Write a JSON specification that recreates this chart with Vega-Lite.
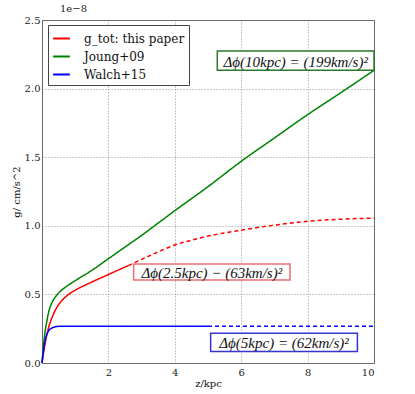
{
  "$schema": "https://vega.github.io/schema/vega-lite/v6.json",
  "width": 332,
  "height": 343,
  "autosize": {"type": "none"},
  "padding": {"left": 42, "top": 20, "right": 41, "bottom": 31},
  "background": "white",
  "title": {"text": "1e−8", "anchor": "start", "frame": "group", "font": "DejaVu Serif, Liberation Serif, serif", "fontSize": 10, "fontWeight": "normal", "color": "#222", "offset": 1, "dx": 18},
  "config": {
    "view": {"stroke": "#666", "strokeWidth": 1},
    "axis": {"labelFont": "DejaVu Serif, Liberation Serif, serif", "titleFont": "DejaVu Serif, Liberation Serif, serif", "labelFontSize": 10, "titleFontSize": 10, "labelColor": "#222", "titleColor": "#111", "titleFontWeight": "normal", "domain": false, "ticks": false, "gridColor": "#777", "gridDash": [1, 2], "gridWidth": 0.8}
  },
  "datasets": {
    "curves": [
      {"s": "g_tot: this paper", "seg": "solid", "z": 0, "g": 0},
      {"s": "g_tot: this paper", "seg": "solid", "z": 0.05, "g": 0.08},
      {"s": "g_tot: this paper", "seg": "solid", "z": 0.1, "g": 0.15},
      {"s": "g_tot: this paper", "seg": "solid", "z": 0.15, "g": 0.21},
      {"s": "g_tot: this paper", "seg": "solid", "z": 0.2, "g": 0.26},
      {"s": "g_tot: this paper", "seg": "solid", "z": 0.3, "g": 0.33},
      {"s": "g_tot: this paper", "seg": "solid", "z": 0.4, "g": 0.385},
      {"s": "g_tot: this paper", "seg": "solid", "z": 0.5, "g": 0.425},
      {"s": "g_tot: this paper", "seg": "solid", "z": 0.75, "g": 0.49},
      {"s": "g_tot: this paper", "seg": "solid", "z": 1, "g": 0.53},
      {"s": "g_tot: this paper", "seg": "solid", "z": 1.5, "g": 0.59},
      {"s": "g_tot: this paper", "seg": "solid", "z": 2, "g": 0.645},
      {"s": "g_tot: this paper", "seg": "solid", "z": 2.6, "g": 0.71},
      {"s": "g_tot: this paper", "seg": "dashed", "z": 2.6, "g": 0.71},
      {"s": "g_tot: this paper", "seg": "dashed", "z": 3, "g": 0.755},
      {"s": "g_tot: this paper", "seg": "dashed", "z": 3.5, "g": 0.81},
      {"s": "g_tot: this paper", "seg": "dashed", "z": 4, "g": 0.86},
      {"s": "g_tot: this paper", "seg": "dashed", "z": 4.5, "g": 0.895},
      {"s": "g_tot: this paper", "seg": "dashed", "z": 5, "g": 0.925},
      {"s": "g_tot: this paper", "seg": "dashed", "z": 6, "g": 0.968},
      {"s": "g_tot: this paper", "seg": "dashed", "z": 7, "g": 1.005},
      {"s": "g_tot: this paper", "seg": "dashed", "z": 8, "g": 1.033},
      {"s": "g_tot: this paper", "seg": "dashed", "z": 9, "g": 1.048},
      {"s": "g_tot: this paper", "seg": "dashed", "z": 10, "g": 1.056},
      {"s": "Joung+09", "seg": "solid", "z": 0, "g": 0},
      {"s": "Joung+09", "seg": "solid", "z": 0.05, "g": 0.14},
      {"s": "Joung+09", "seg": "solid", "z": 0.1, "g": 0.24},
      {"s": "Joung+09", "seg": "solid", "z": 0.15, "g": 0.31},
      {"s": "Joung+09", "seg": "solid", "z": 0.2, "g": 0.37},
      {"s": "Joung+09", "seg": "solid", "z": 0.3, "g": 0.44},
      {"s": "Joung+09", "seg": "solid", "z": 0.4, "g": 0.48},
      {"s": "Joung+09", "seg": "solid", "z": 0.5, "g": 0.51},
      {"s": "Joung+09", "seg": "solid", "z": 0.75, "g": 0.56},
      {"s": "Joung+09", "seg": "solid", "z": 1, "g": 0.6},
      {"s": "Joung+09", "seg": "solid", "z": 1.5, "g": 0.675},
      {"s": "Joung+09", "seg": "solid", "z": 2, "g": 0.76},
      {"s": "Joung+09", "seg": "solid", "z": 2.5, "g": 0.845},
      {"s": "Joung+09", "seg": "solid", "z": 3, "g": 0.93},
      {"s": "Joung+09", "seg": "solid", "z": 3.5, "g": 1.02},
      {"s": "Joung+09", "seg": "solid", "z": 4, "g": 1.11},
      {"s": "Joung+09", "seg": "solid", "z": 5, "g": 1.285},
      {"s": "Joung+09", "seg": "solid", "z": 6, "g": 1.47},
      {"s": "Joung+09", "seg": "solid", "z": 7, "g": 1.64},
      {"s": "Joung+09", "seg": "solid", "z": 8, "g": 1.81},
      {"s": "Joung+09", "seg": "solid", "z": 9, "g": 1.97},
      {"s": "Joung+09", "seg": "solid", "z": 10, "g": 2.133},
      {"s": "Walch+15", "seg": "solid", "z": 0, "g": 0},
      {"s": "Walch+15", "seg": "solid", "z": 0.05, "g": 0.1},
      {"s": "Walch+15", "seg": "solid", "z": 0.1, "g": 0.17},
      {"s": "Walch+15", "seg": "solid", "z": 0.15, "g": 0.21},
      {"s": "Walch+15", "seg": "solid", "z": 0.2, "g": 0.235},
      {"s": "Walch+15", "seg": "solid", "z": 0.3, "g": 0.255},
      {"s": "Walch+15", "seg": "solid", "z": 0.4, "g": 0.264},
      {"s": "Walch+15", "seg": "solid", "z": 0.5, "g": 0.267},
      {"s": "Walch+15", "seg": "solid", "z": 0.7, "g": 0.268},
      {"s": "Walch+15", "seg": "solid", "z": 5, "g": 0.268},
      {"s": "Walch+15", "seg": "dashed", "z": 5, "g": 0.268},
      {"s": "Walch+15", "seg": "dashed", "z": 10, "g": 0.268}
    ],
    "boxes": [
      {"s": "Joung+09", "x1": 5.28, "x2": 10.0, "y1": 2.133, "y2": 2.274, "xm": 7.64, "ym": 2.2035, "label": "Δϕ(10kpc) = (199km/s)²"},
      {"s": "g_tot: this paper", "x1": 2.76, "x2": 7.47, "y1": 0.605, "y2": 0.721, "xm": 5.115, "ym": 0.663, "label": "Δϕ(2.5kpc) − (63km/s)²"},
      {"s": "Walch+15", "x1": 5.08, "x2": 9.5, "y1": 0.083, "y2": 0.217, "xm": 7.29, "ym": 0.15, "label": "Δϕ(5kpc) = (62km/s)²"}
    ]
  },
  "layer": [
    {
      "data": {"name": "curves"},
      "mark": {"type": "line", "strokeWidth": 1.5, "interpolate": "monotone"},
      "encoding": {
        "x": {"field": "z", "type": "quantitative", "scale": {"domain": [0, 10], "nice": false}, "axis": {"title": "z/kpc", "values": [2, 4, 6, 8, 10], "labelPadding": 4, "titlePadding": 1}},
        "y": {"field": "g", "type": "quantitative", "scale": {"domain": [0, 2.5], "nice": false}, "axis": {"title": "g/ cm/s^2", "values": [0, 0.5, 1, 1.5, 2, 2.5], "format": ".1f", "labelPadding": 2, "titlePadding": 3}},
        "color": {"field": "s", "type": "nominal", "scale": {"domain": ["g_tot: this paper", "Joung+09", "Walch+15"], "range": ["#ff0000", "#008000", "#0000ff"]},
          "legend": {"title": null, "orient": "none", "legendX": 6, "legendY": 5, "symbolType": "stroke", "symbolStrokeWidth": 2, "symbolSize": 280, "labelFont": "DejaVu Serif, Liberation Serif, serif", "labelFontSize": 12, "labelColor": "#111", "labelOffset": 13, "rowPadding": 2, "strokeColor": "#444", "fillColor": "white", "padding": 4, "labelLimit": 200}},
        "strokeDash": {"field": "seg", "type": "nominal", "scale": {"domain": ["solid", "dashed"], "range": [[1, 0], [4, 3]]}, "legend": null},
        "detail": {"field": "seg"}
      }
    },
    {
      "data": {"name": "boxes"},
      "mark": {"type": "rect", "fill": "white", "strokeWidth": 1.5},
      "encoding": {
        "x": {"field": "x1", "type": "quantitative"},
        "x2": {"field": "x2"},
        "y": {"field": "y1", "type": "quantitative"},
        "y2": {"field": "y2"},
        "stroke": {"field": "s", "type": "nominal", "scale": {"domain": ["g_tot: this paper", "Joung+09", "Walch+15"], "range": ["#e87070", "#2a7a2a", "#3535d0"]}, "legend": null}
      }
    },
    {
      "data": {"name": "boxes"},
      "mark": {"type": "text", "font": "Liberation Serif", "fontStyle": "italic", "fontSize": 15, "color": "#111", "align": "center", "baseline": "middle", "dy": 1},
      "encoding": {
        "x": {"field": "xm", "type": "quantitative"},
        "y": {"field": "ym", "type": "quantitative"},
        "text": {"field": "label"}
      }
    }
  ]
}
